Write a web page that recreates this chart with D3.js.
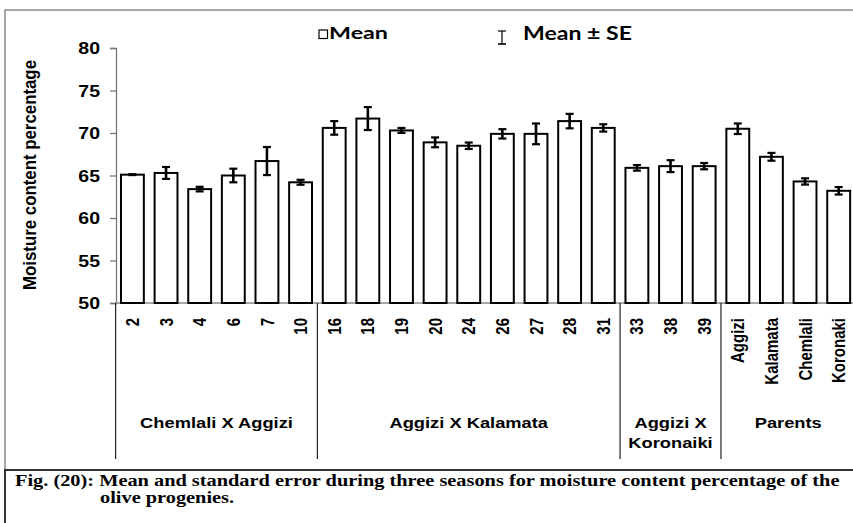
<!DOCTYPE html>
<html>
<head>
<meta charset="utf-8">
<script src="https://cdn.jsdelivr.net/npm/d3@7"></script>
<style>
  html, body { margin: 0; padding: 0; background: #fff; }
  svg { display: block; }
</style>
</head>
<body>
<svg id="chart" width="853" height="523"></svg>
<script>
// Moisture content (%) of olive progenies: mean and SE over three seasons
const categories = ["2", "3", "4", "6", "7", "10", "16", "18", "19", "20", "24", "26", "27", "28", "31", "33", "38", "39", "Aggizi", "Kalamata", "Chemlali", "Koronaki"];
const means = [65.1, 65.3, 63.4, 65.0, 66.7, 64.2, 70.6, 71.7, 70.3, 68.9, 68.5, 69.9, 69.9, 71.4, 70.6, 65.9, 66.1, 66.1, 70.5, 67.2, 64.3, 63.2];
const se = [0.05, 0.7, 0.27, 0.8, 1.65, 0.29, 0.8, 1.35, 0.29, 0.58, 0.38, 0.55, 1.22, 0.85, 0.43, 0.33, 0.7, 0.37, 0.62, 0.46, 0.37, 0.44];
const groupNames = [["Chemlali X Aggizi"], ["Aggizi X Kalamata"], ["Aggizi X", "Koronaiki"], ["Parents"]];
const groupSizes = [6, 9, 3, 4];
const yTicks = [50, 55, 60, 65, 70, 75, 80];

const svg = d3.select("#chart");
const sans = "'Liberation Sans', Arial, sans-serif";
const SX = 1.22; // horizontal glyph stretch used throughout the figure

const x = d3.scaleBand()
  .domain(categories)
  .range([115.6, 855.5])
  .paddingInner(0.32)
  .paddingOuter(0.16);
const y = d3.scaleLinear().domain([50, 80]).range([303, 48]);

// outer frame
svg.append("rect")
  .attr("x", 5).attr("y", 10).attr("width", 860).attr("height", 460)
  .attr("fill", "none").attr("stroke", "#8a8a8a").attr("stroke-width", 1.5);

// caption box
svg.append("rect")
  .attr("x", 5).attr("y", 470).attr("width", 860).attr("height", 70)
  .attr("fill", "#fff").attr("stroke", "#333").attr("stroke-width", 2);

// y axis
const yAxis = svg.append("g")
  .attr("transform", "translate(116,0)")
  .call(d3.axisLeft(y).tickValues(yTicks).tickSize(6).tickPadding(0).tickFormat(d3.format("d")));
yAxis.select(".domain").attr("stroke", "#777").attr("stroke-width", 1.3);
yAxis.selectAll(".tick line").attr("stroke", "#777").attr("stroke-width", 1.3);
yAxis.selectAll(".tick text").remove();
yAxis.selectAll(".tick").append("text")
  .attr("transform", "translate(-16,0) scale(" + SX + ",1)")
  .attr("dy", "0.36em")
  .attr("text-anchor", "end")
  .attr("fill", "#000")
  .style("font-family", sans).style("font-weight", "bold").style("font-size", "16px")
  .text(d => d);

// x axis baseline
svg.append("line")
  .attr("x1", 116).attr("x2", 853).attr("y1", y(50)).attr("y2", y(50))
  .attr("stroke", "#8a8a8a").attr("stroke-width", 1.5);

// y axis title
svg.append("text")
  .attr("transform", "translate(30,175) scale(" + SX + ",1) rotate(-90)")
  .attr("text-anchor", "middle")
  .attr("dy", "0.35em")
  .attr("textLength", 230).attr("lengthAdjust", "spacingAndGlyphs")
  .style("font-family", sans).style("font-weight", "bold").style("font-size", "15px")
  .text("Moisture content percentage");

// bars
const rows = categories.map((c, i) => ({ c, m: means[i], s: se[i] }));
svg.append("g").selectAll("rect").data(rows).join("rect")
  .attr("x", d => x(d.c))
  .attr("y", d => y(d.m))
  .attr("width", x.bandwidth())
  .attr("height", d => y(50) - y(d.m))
  .attr("fill", "#fff").attr("stroke", "#000").attr("stroke-width", 2);

// error bars
const eb = svg.append("g").selectAll("g").data(rows).join("g")
  .attr("transform", d => "translate(" + (x(d.c) + x.bandwidth() / 2) + ",0)");
eb.append("line")
  .attr("y1", d => y(d.m + d.s)).attr("y2", d => y(d.m - d.s))
  .attr("stroke", "#000").attr("stroke-width", 2.6);
eb.append("line")
  .attr("x1", -4).attr("x2", 4)
  .attr("y1", d => y(d.m + d.s)).attr("y2", d => y(d.m + d.s))
  .attr("stroke", "#000").attr("stroke-width", 2.2);
eb.append("line")
  .attr("x1", -4).attr("x2", 4)
  .attr("y1", d => y(d.m - d.s)).attr("y2", d => y(d.m - d.s))
  .attr("stroke", "#000").attr("stroke-width", 2.2);

// category labels (rotated)
svg.append("g").selectAll("text").data(categories).join("text")
  .attr("transform", d => "translate(" + (x(d) + x.bandwidth() / 2) + ",318) scale(" + SX + ",1) rotate(-90)")
  .attr("text-anchor", "end")
  .attr("dy", "0.36em")
  .style("font-family", sans).style("font-weight", "bold").style("font-size", "15px")
  .text(d => d);

// group separators and group labels
let start = 0;
const bounds = [];
groupSizes.forEach(n => {
  const first = categories[start];
  const last = categories[start + n - 1];
  const x0 = x(first) - x.step() * x.paddingInner() / 2;
  const x1 = x(last) + x.bandwidth() + x.step() * x.paddingInner() / 2;
  bounds.push([x0, x1]);
  start += n;
});
svg.append("g").selectAll("line").data(bounds).join("line")
  .attr("x1", d => d[0]).attr("x2", d => d[0])
  .attr("y1", y(50)).attr("y2", 459)
  .attr("stroke", "#222").attr("stroke-width", 1.2);

const gl = svg.append("g").selectAll("g").data(groupNames).join("g")
  .attr("transform", (d, i) => "translate(" + ((bounds[i][0] + bounds[i][1]) / 2) + ",428)");
gl.selectAll("text").data(d => d).join("text")
  .attr("transform", (d, j) => "translate(0," + (j * 19.5) + ") scale(" + SX + ",1)")
  .attr("text-anchor", "middle")
  .style("font-family", sans).style("font-weight", "bold").style("font-size", "15px")
  .text(d => d);

// legend
const legendFont = "Lato, 'Open Sans', sans-serif";
svg.append("rect")
  .attr("x", 319).attr("y", 30).attr("width", 8.5).attr("height", 8.5)
  .attr("fill", "#fff").attr("stroke", "#000").attr("stroke-width", 1.2);
svg.append("text")
  .attr("x", 329).attr("y", 38.5)
  .attr("textLength", 59).attr("lengthAdjust", "spacingAndGlyphs")
  .style("font-family", legendFont).style("font-weight", "bold").style("font-size", "17px")
  .text("Mean");
const lg = svg.append("g").attr("transform", "translate(502,0)");
lg.append("line").attr("y1", 31).attr("y2", 44).attr("stroke", "#000").attr("stroke-width", 1.2);
lg.append("line").attr("x1", -4).attr("x2", 4).attr("y1", 31).attr("y2", 31).attr("stroke", "#000").attr("stroke-width", 1.2);
lg.append("line").attr("x1", -4).attr("x2", 4).attr("y1", 44).attr("y2", 44).attr("stroke", "#000").attr("stroke-width", 1.6);
svg.append("text")
  .attr("x", 523).attr("y", 39.5)
  .attr("textLength", 109).attr("lengthAdjust", "spacingAndGlyphs")
  .style("font-family", legendFont).style("font-weight", "bold").style("font-size", "18px")
  .text("Mean \u00B1 SE");

// caption
const cap = svg.append("g").attr("transform", "translate(15,0)");
const serif = "'Liberation Serif', 'Times New Roman', serif";
const l1 = cap.append("text")
  .attr("y", 486)
  .style("font-family", serif).style("font-weight", "bold").style("font-size", "16px")
  .text("Fig. (20): Mean and standard error during three seasons for moisture content percentage of the");
const natural = l1.node().getComputedTextLength();
const capSX = 825 / natural;
l1.attr("transform", "scale(" + capSX + ",1)");
cap.append("text")
  .attr("y", 503)
  .attr("transform", "translate(85,0) scale(" + capSX + ",1)")
  .style("font-family", serif).style("font-weight", "bold").style("font-size", "16px")
  .text("olive progenies.");
</script>
</body>
</html>
